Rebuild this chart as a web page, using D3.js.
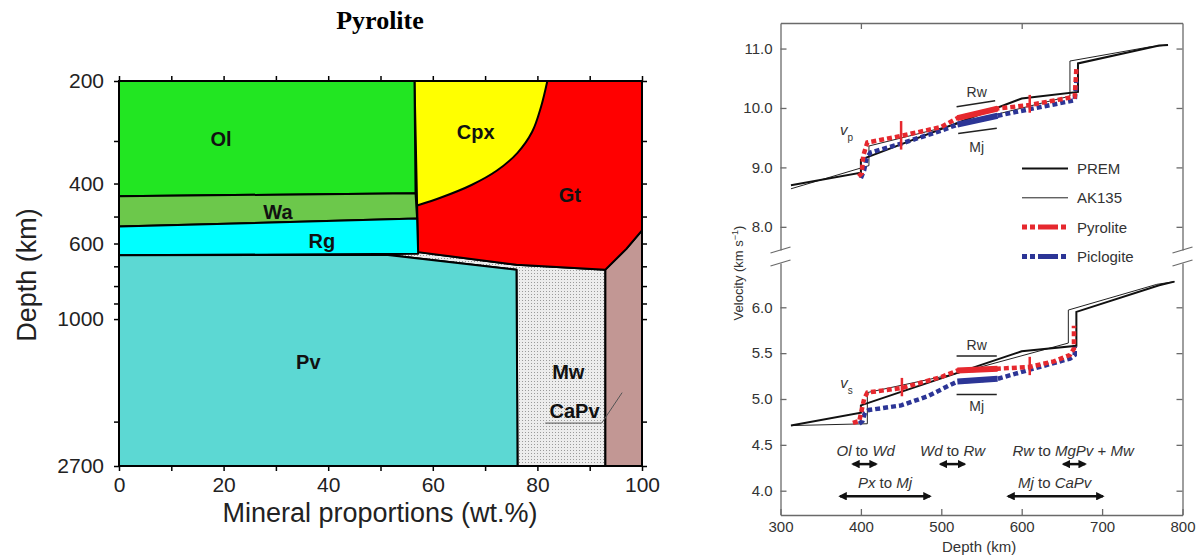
<!DOCTYPE html>
<html>
<head>
<meta charset="utf-8">
<script src="https://cdn.jsdelivr.net/npm/d3@7"></script>
<style>
body { margin: 0; background: #fff; }
svg { font-family: "Liberation Sans", Arial, sans-serif; }
</style>
</head>
<body>
<svg id="fig" width="1200" height="558"></svg>
<script>
// ---------- left panel: mineral fields, points are [wt.%, depth km]
const olField   = [[0,200],[56.5,200],[56.7,427],[0,436]];
const waField   = [[0,436],[56.7,427],[57,507],[0,535]];
const rgField   = [[0,535],[57,507],[57.2,643],[0,650]];
const pvField   = [[0,650],[51,647],[76,716],[76.2,2700],[0,2700]];
const gtField   = [[56.5,200],[100,200],[100,549],[97,622],[93,716],[76,693],[57.2,636],[57,464]];
const cpxCurve  = [[81.9,200],[80.7,238],[79.0,282],[76.2,325],[72.2,367],[67.4,404],[61.7,439],[57,464]];
const mwField   = [[51,647],[57.2,636],[76,693],[93,716],[93,2700],[76.2,2700],[76,716]];
const capvField = [[100,549],[97,622],[93,716],[93,2700],[100,2700]];

const fieldLabels = [
  ["Ol", 19.5, 296], ["Cpx", 68.2, 282], ["Wa", 30.4, 484], ["Gt", 86.2, 432],
  ["Rg", 38.8, 589], ["Pv", 36.2, 1334], ["Mw", 85.9, 1427], ["CaPv", 87.1, 1857]
];
const capvLeader = [[81.5,2020],[92.3,2020],[96.2,1644]];

const depthTicks = [200,300,400,500,600,700,800,900,1000,2000,2700];
const depthLabels = [200,400,600,1000,2700];
const pctTicks = d3.range(0, 101, 10);
const pctLabels = [0,20,40,60,80,100];

// ---------- right panel: velocity profiles, points are [depth km, km/s]
const premVp      = [[313,8.70],[400,8.91],[400,9.13],[600,10.16],[670,10.27],[670,10.75],[771,11.05],[782,11.06]];
const ak135Vp     = [[313,8.64],[410,9.03],[410,9.36],[660,10.20],[660,10.79],[760,11.03],[782,11.06]];
const pyroliteVp  = [[397,8.85],[401,8.90],[403,9.20],[408,9.42],[450,9.53],[500,9.68],[520,9.83],[570,9.99],[610,10.05],[666,10.19],[668,10.67]];
const piclogiteVp = [[400,8.82],[404,8.95],[407,9.15],[412,9.25],[450,9.40],[500,9.62],[520,9.72],[570,9.87],[610,9.98],[666,10.13],[668,10.45]];

const premVs      = [[313,4.71],[400,4.85],[400,4.93],[600,5.52],[668,5.58],[668,5.95],[771,6.24],[790,6.28]];
const ak135Vs     = [[313,4.71],[408,4.73],[408,5.07],[520,5.28],[658,5.61],[658,5.97],[768,6.25],[790,6.28]];
const pyroliteVs  = [[390,4.74],[398,4.76],[401,4.88],[404,5.00],[408,5.07],[451,5.12],[500,5.24],[520,5.31],[570,5.33],[610,5.35],[640,5.41],[660,5.48],[665,5.55],[665,5.80]];
const piclogiteVs = [[398,4.73],[402,4.76],[405,4.85],[410,4.88],[450,4.93],[483,5.03],[515,5.17],[520,5.19],[570,5.22],[610,5.32],[660,5.44],[666,5.48],[666,5.57]];

// red error bars [depth, low, high]
const pyroliteVpErr = [[450,9.30,9.78],[610,9.92,10.22]];
const pyroliteVsErr = [[451,5.03,5.23],[610,5.26,5.46]];
const solidRange = [520, 570];

const velTicksTop = [8,9,10,11];
const velTicksBot = [4,4.5,5,5.5,6];
const depthTicksR = [300,400,500,600,700,800];

// transitions: [label parts, text depth, text vel, arrow from, arrow to, arrow vel]
const transitions = [
  [[["Ol",1],[" to ",0],["Wd",1]], 406, 4.44, 390, 419, 4.29],
  [[["Wd",1],[" to ",0],["Rw",1]], 514, 4.44, 499, 529, 4.29],
  [[["Rw",1],[" to ",0],["MgPv",1],[" + ",0],["Mw",1]], 664, 4.44, 652, 679, 4.29],
  [[["Px",1],[" to ",0],["Mj",1]], 430, 4.09, 374, 486, 3.94],
  [[["Mj",1],[" to ",0],["CaPv",1]], 641, 4.09, 583, 701, 3.94]
];

const RED = "#e6282e", BLUE = "#2c3596";

const svg = d3.select("#fig");
const defs = svg.append("defs");
const pat = defs.append("pattern").attr("id", "dots")
  .attr("width", 3).attr("height", 3).attr("patternUnits", "userSpaceOnUse");
pat.append("rect").attr("width", 3).attr("height", 3).attr("fill", "#ececec");
pat.append("rect").attr("width", 1).attr("height", 1).attr("fill", "#9a9a9a");
defs.append("marker").attr("id", "head")
  .attr("viewBox", "0 0 10 10").attr("refX", 8).attr("refY", 5)
  .attr("markerWidth", 3.4).attr("markerHeight", 3.4)
  .attr("orient", "auto-start-reverse")
  .append("path").attr("d", "M0,0L10,5L0,10Z").attr("fill", "#111");

// ================= LEFT PANEL =================
const xL = d3.scaleLinear([0, 100], [119, 642]);
const yL = d3.scaleLog([200, 2700], [81, 466]);
const poly = d3.line().x(d => xL(d[0])).y(d => yL(d[1]));
const left = svg.append("g");

const fields = [
  [mwField, "url(#dots)"], [capvField, "#c29794"], [gtField, "#ff0000"],
  [null, "#ffff00"], [olField, "#22e622"], [waField, "#6cc84b"],
  [rgField, "#00ffff"], [pvField, "#5cd8d3"]
];
const curve = d3.line().x(d => xL(d[0])).y(d => yL(d[1])).curve(d3.curveCatmullRom);
fields.forEach(([pts, fill]) => {
  let d;
  if (pts) d = poly(pts) + "Z";
  else d = `M${xL(56.5)},${yL(200)}` + curve(cpxCurve).replace(/^M/, "L") + "Z";
  left.append("path").attr("d", d).attr("fill", fill)
    .attr("stroke", "#000").attr("stroke-width", 2).attr("stroke-linejoin", "round");
});

left.append("path").attr("d", poly(capvLeader))
  .attr("fill", "none").attr("stroke", "#555").attr("stroke-width", 1);

left.append("rect")
  .attr("x", xL(0)).attr("y", yL(200))
  .attr("width", xL(100) - xL(0)).attr("height", yL(2700) - yL(200))
  .attr("fill", "none").attr("stroke", "#000").attr("stroke-width", 2);

left.selectAll("text.fl").data(fieldLabels).join("text")
  .attr("x", d => xL(d[1])).attr("y", d => yL(d[2]))
  .attr("text-anchor", "middle").attr("dominant-baseline", "central")
  .attr("font-size", 20).attr("font-weight", "bold").attr("fill", "#111")
  .text(d => d[0]);

function styleLeftAxis(g) {
  g.select(".domain").remove();
  g.selectAll(".tick line").attr("stroke", "#000").attr("stroke-width", 1.5);
  g.selectAll(".tick text").attr("font-size", 21).attr("fill", "#222")
    .attr("font-family", "'Liberation Sans', Arial, sans-serif");
}
const depthFmt = d => depthLabels.includes(d) ? d : "";
left.append("g").attr("transform", `translate(${xL(0)},0)`)
  .call(d3.axisLeft(yL).tickValues(depthTicks).tickFormat(depthFmt).tickSize(5).tickPadding(10))
  .call(styleLeftAxis);
left.append("g").attr("transform", `translate(${xL(100)},0)`)
  .call(d3.axisRight(yL).tickValues(depthTicks).tickFormat("").tickSize(5))
  .call(styleLeftAxis);
left.append("g").attr("transform", `translate(0,${yL(2700)})`)
  .call(d3.axisBottom(xL).tickValues(pctTicks).tickFormat(d => pctLabels.includes(d) ? d : "").tickSize(5).tickPadding(6))
  .call(styleLeftAxis);
left.append("g").attr("transform", `translate(0,${yL(200)})`)
  .call(d3.axisTop(xL).tickValues(pctTicks).tickFormat("").tickSize(5))
  .call(styleLeftAxis);

left.append("text").attr("x", 380).attr("y", 29).attr("text-anchor", "middle")
  .attr("font-family", "'Liberation Serif', 'Times New Roman', serif")
  .attr("font-weight", "bold").attr("font-size", 26).text("Pyrolite");
left.append("text").attr("transform", "translate(36,275) rotate(-90)")
  .attr("text-anchor", "middle").attr("font-size", 27).attr("fill", "#222").text("Depth (km)");
left.append("text").attr("x", 380).attr("y", 522)
  .attr("text-anchor", "middle").attr("font-size", 27).attr("fill", "#222").text("Mineral proportions (wt.%)");

// ================= RIGHT PANEL =================
const xR = d3.scaleLinear([300, 800], [780.5, 1182.5]);
const yTop = d3.scaleLinear([7.61, 11.43], [250, 23]);
const yBot = d3.scaleLinear([3.735, 6.483], [515, 263]);
const right = svg.append("g");
const AX = "#6a6a6a";

function styleRightAxis(g) {
  g.select(".domain").attr("stroke", AX).attr("stroke-width", 1.3);
  g.selectAll(".tick line").attr("stroke", AX).attr("stroke-width", 1.3);
  g.selectAll(".tick text").attr("font-size", 15).attr("fill", "#333")
    .attr("font-family", "'Liberation Sans', Arial, sans-serif");
}
const f1 = d3.format(".1f");
right.append("g").attr("transform", `translate(${xR(300)},0)`)
  .call(d3.axisLeft(yTop).tickValues(velTicksTop).tickFormat(f1).tickSize(-6).tickSizeOuter(0).tickPadding(8))
  .call(styleRightAxis);
right.append("g").attr("transform", `translate(${xR(800)},0)`)
  .call(d3.axisRight(yTop).tickValues(velTicksTop).tickFormat("").tickSize(-6).tickSizeOuter(0))
  .call(styleRightAxis);
right.append("g").attr("transform", `translate(${xR(300)},0)`)
  .call(d3.axisLeft(yBot).tickValues(velTicksBot).tickFormat(f1).tickSize(-6).tickSizeOuter(0).tickPadding(8))
  .call(styleRightAxis);
right.append("g").attr("transform", `translate(${xR(800)},0)`)
  .call(d3.axisRight(yBot).tickValues(velTicksBot).tickFormat("").tickSize(-6).tickSizeOuter(0))
  .call(styleRightAxis);
right.append("g").attr("transform", `translate(0,${yBot.range()[0]})`)
  .call(d3.axisBottom(xR).tickValues(depthTicksR).tickSize(-6).tickSizeOuter(0).tickPadding(6))
  .call(styleRightAxis);
right.append("g").attr("transform", `translate(0,${yTop.range()[1]})`)
  .call(d3.axisTop(xR).tickValues([400, 600]).tickFormat("").tickSize(-6).tickSizeOuter(0))
  .call(styleRightAxis);

// axis breaks
[xR(300), xR(800)].forEach(x => {
  [yTop.range()[0], yBot.range()[1]].forEach(y => {
    right.append("line").attr("x1", x - 10).attr("y1", y + 3).attr("x2", x + 10).attr("y2", y - 3)
      .attr("stroke", AX).attr("stroke-width", 1.3);
  });
});

right.append("text").attr("x", xR(547)).attr("y", 552).attr("text-anchor", "middle")
  .attr("font-size", 15).attr("fill", "#333").text("Depth (km)");
const vl = right.append("text").attr("transform", "translate(743,273) rotate(-90)")
  .attr("text-anchor", "middle").attr("font-size", 13).attr("fill", "#333");
vl.append("tspan").text("Velocity (km s");
vl.append("tspan").attr("baseline-shift", "super").attr("font-size", 9).text("\u22121");
vl.append("tspan").text(")");

function drawPanel(y, prem, ak, pyr, pic, err) {
  const line = d3.line().x(d => xR(d[0])).y(d => y(d[1]));
  right.append("path").attr("d", line(ak)).attr("fill", "none").attr("stroke", "#222").attr("stroke-width", 1);
  right.append("path").attr("d", line(prem)).attr("fill", "none").attr("stroke", "#111").attr("stroke-width", 2);
  [[pic, BLUE], [pyr, RED]].forEach(([s, c]) => {
    right.append("path").attr("d", line(s)).attr("fill", "none").attr("stroke", c)
      .attr("stroke-width", 4.5).attr("stroke-dasharray", "5,3");
    const solid = s.filter(d => d[0] >= solidRange[0] && d[0] <= solidRange[1]);
    right.append("path").attr("d", line(solid)).attr("fill", "none").attr("stroke", c)
      .attr("stroke-width", 6);
  });
  err.forEach(e => {
    right.append("line").attr("x1", xR(e[0])).attr("x2", xR(e[0]))
      .attr("y1", y(e[1])).attr("y2", y(e[2])).attr("stroke", RED).attr("stroke-width", 2.5);
  });
}
drawPanel(yTop, premVp, ak135Vp, pyroliteVp, piclogiteVp, pyroliteVpErr);
drawPanel(yBot, premVs, ak135Vs, pyroliteVs, piclogiteVs, pyroliteVsErr);

// Rw / Mj markers
function rwmj(y, rwLine, mjLine, rwText, mjText) {
  const line = d3.line().x(d => xR(d[0])).y(d => y(d[1]));
  right.append("path").attr("d", line(rwLine)).attr("stroke", "#222").attr("stroke-width", 1.5).attr("fill", "none");
  right.append("path").attr("d", line(mjLine)).attr("stroke", "#222").attr("stroke-width", 1.5).attr("fill", "none");
  right.append("text").attr("x", xR(rwText[0])).attr("y", y(rwText[1])).attr("text-anchor", "middle")
    .attr("dominant-baseline", "central").attr("font-size", 14).attr("fill", "#333").text("Rw");
  right.append("text").attr("x", xR(mjText[0])).attr("y", y(mjText[1])).attr("text-anchor", "middle")
    .attr("dominant-baseline", "central").attr("font-size", 14).attr("fill", "#333").text("Mj");
}
rwmj(yTop, [[519,10.02],[567,10.12]], [[521,9.57],[569,9.66]], [544,10.27], [544,9.35]);
rwmj(yBot, [[519,5.47],[569,5.47]], [[519,5.05],[569,5.05]], [544,5.59], [544,4.92]);

function vlabel(y, pos, sub) {
  const t = right.append("text").attr("x", xR(pos[0])).attr("y", y(pos[1]))
    .attr("text-anchor", "middle").attr("font-size", 15).attr("fill", "#333");
  t.append("tspan").attr("font-style", "italic").text("v");
  t.append("tspan").attr("baseline-shift", "sub").attr("font-size", 10).text(sub);
}
vlabel(yTop, [382, 9.55], "p");
vlabel(yBot, [382, 5.12], "s");

// transitions
transitions.forEach(([parts, td, tv, a0, a1, av]) => {
  const t = right.append("text").attr("x", xR(td)).attr("y", yBot(tv))
    .attr("text-anchor", "middle").attr("dominant-baseline", "central")
    .attr("font-size", 15).attr("fill", "#333");
  parts.forEach(p => t.append("tspan").attr("font-style", p[1] ? "italic" : "normal")
    .attr("xml:space", "preserve").text(p[0]));
  right.append("line").attr("x1", xR(a0)).attr("x2", xR(a1)).attr("y1", yBot(av)).attr("y2", yBot(av))
    .attr("stroke", "#111").attr("stroke-width", 2.5)
    .attr("marker-start", "url(#head)").attr("marker-end", "url(#head)");
});

// legend
const legend = [
  ["PREM", "#111", 2, null],
  ["AK135", "#222", 1, null],
  ["Pyrolite", RED, 5, "5,3,5,3,20,3,5"],
  ["Piclogite", BLUE, 5, "5,3,5,3,20,3,5"]
];
const lg = right.append("g");
legend.forEach((d, i) => {
  const y = 168.5 + i * 29.3;
  lg.append("line").attr("x1", 1022).attr("x2", 1068).attr("y1", y).attr("y2", y)
    .attr("stroke", d[1]).attr("stroke-width", d[2]).attr("stroke-dasharray", d[3]);
  lg.append("text").attr("x", 1077).attr("y", y).attr("dominant-baseline", "central")
    .attr("font-size", 15).attr("fill", "#333").text(d[0]);
});
</script>
</body>
</html>
